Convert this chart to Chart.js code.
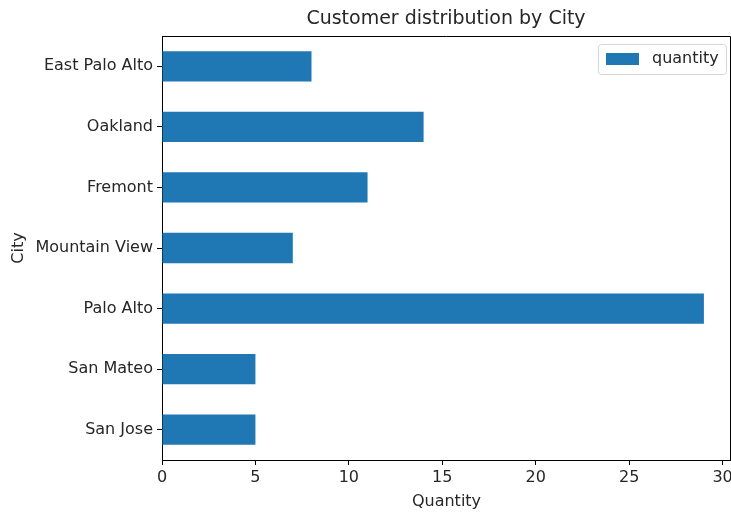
<!DOCTYPE html>
<html>
<head>
<meta charset="utf-8">
<script src="https://cdn.jsdelivr.net/npm/chart.js@4/dist/chart.umd.min.js"></script>
<style>
  html, body { margin: 0; padding: 0; background: #fff; }
  #wrap { width: 731px; height: 515px; }
</style>
</head>
<body>
<div id="wrap"><canvas id="cityChart" width="731" height="515"></canvas></div>
<script>
// data
const cities = ['East Palo Alto', 'Oakland', 'Fremont', 'Mountain View', 'Palo Alto', 'San Mateo', 'San Jose'];
const quantity = [8, 14, 11, 7, 29, 5, 5];
const xTicks = [0, 5, 10, 15, 20, 25, 30];

const FONT = 'DejaVu Sans';
const BLUE = '#1f77b4';
const INK = '#262626';

// title, top/right spines and the boxed legend, matplotlib style
const decorations = {
    id: 'decorations',
    afterDraw(chart) {
        const { ctx, chartArea: a } = chart;
        ctx.save();
        // spines top + right
        ctx.strokeStyle = '#000';
        ctx.lineWidth = 1;
        ctx.beginPath();
        ctx.moveTo(a.left, a.top + 0.5);
        ctx.lineTo(a.right - 0.5, a.top + 0.5);
        ctx.lineTo(a.right - 0.5, a.bottom);
        ctx.stroke();

        // title
        ctx.fillStyle = INK;
        ctx.font = '19px "' + FONT + '"';
        ctx.textAlign = 'center';
        ctx.textBaseline = 'middle';
        ctx.fillText('Customer distribution by City', 446, 19);

        // legend
        const ds = chart.data.datasets[0];
        const bx = 598, by = 44, bw = 128, bh = 30;
        ctx.strokeStyle = '#d6d6d6';
        ctx.fillStyle = 'rgba(255,255,255,0.8)';
        ctx.beginPath();
        ctx.roundRect(bx + 0.5, by + 0.5, bw, bh, 3);
        ctx.fill();
        ctx.stroke();
        ctx.fillStyle = ds.backgroundColor;
        ctx.fillRect(bx + 8, by + 9, 33, 12);
        ctx.fillStyle = INK;
        ctx.font = '16px "' + FONT + '"';
        ctx.textAlign = 'left';
        ctx.fillText(ds.label, bx + 54, by + 15);
        ctx.restore();
    }
};

new Chart(document.getElementById('cityChart'), {
    type: 'bar',
    data: {
        labels: cities,
        datasets: [{
            label: 'quantity',
            data: quantity,
            backgroundColor: BLUE,
            borderWidth: 0,
            barPercentage: 0.5,
            categoryPercentage: 1.0
        }]
    },
    options: {
        indexAxis: 'y',
        responsive: false,
        animation: false,
        layout: { padding: { top: 36, right: 0, left: 0, bottom: 0 } },
        plugins: {
            legend: { display: false },
            title: { display: false },
            tooltip: { enabled: false }
        },
        scales: {
            x: {
                min: 0,
                max: 30.45,
                afterBuildTicks: (s) => { s.ticks = xTicks.map(v => ({ value: v })); },
                afterFit: (s) => { s.height = 55; s.paddingLeft = 0; s.paddingRight = 0; },
                grid: { display: true, drawOnChartArea: false, drawTicks: true, tickLength: 5, color: '#000' },
                border: { display: true, color: '#000' },
                ticks: { color: INK, font: { family: FONT, size: 16 }, padding: 3, maxRotation: 0 },
                title: { display: true, text: 'Quantity', color: INK, font: { family: FONT, size: 16 }, padding: { top: 1 } }
            },
            y: {
                afterFit: (s) => { s.width = 162; },
                grid: { display: true, offset: false, drawOnChartArea: false, drawTicks: true, tickLength: 5, color: '#000' },
                border: { display: true, color: '#000' },
                ticks: { color: INK, font: { family: FONT, size: 16 }, padding: 4 },
                title: { display: true, text: 'City', color: INK, font: { family: FONT, size: 16 }, padding: { top: 9 } }
            }
        }
    },
    plugins: [decorations]
});
</script>
</body>
</html>
